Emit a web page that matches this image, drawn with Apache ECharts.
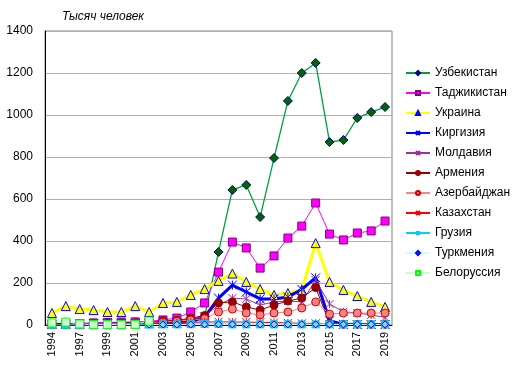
<!DOCTYPE html>
<html><head><meta charset="utf-8">
<script src="https://cdn.jsdelivr.net/npm/echarts@6/dist/echarts.min.js"></script>
<style>html,body{margin:0;padding:0;background:#fff}#c{width:514px;height:374px}</style>
</head><body><div id="c"></div>
<script>
var years = ['1994','1996','1997','1998','1999','2000','2001','2002','2003','2004','2005','2006','2007','2008','2009','2010','2011','2012','2013','2014','2015','2016','2017','2018','2019'];
var yTicks = [0,200,400,600,800,1000,1200,1400];
var uzbekistan = [3,2,3,4,5,6,7,9,12,18,25,40,348,643,667,514,795,1067,1200,1248,871,881,986,1014,1038];
var tajikistan = [5,5,6,10,12,14,15,18,24,33,62,105,252,395,367,271,329,414,471,581,433,405,438,448,495];
var ukraine = [57,90,76,71,62,62,90,62,105,110,143,171,210,245,205,171,143,152,167,390,205,167,138,110,86];
var kyrgyzstan = [3,3,4,4,5,5,6,6,8,10,15,38,128,190,157,124,124,133,170,225,20,3,2,2,2];
var moldova = [2,2,3,5,6,7,9,10,15,20,28,42,95,128,124,95,110,114,110,214,100,63,57,48,36];
var armenia = [3,3,4,6,8,9,10,12,20,22,33,45,105,110,86,71,95,114,128,178,8,3,3,3,3];
var azerbaijan = [2,2,3,4,5,6,7,9,14,18,24,30,62,76,57,48,57,62,81,110,52,57,57,57,57];
var kazakhstan = [1,1,1,2,2,3,3,8,10,10,12,14,15,14,14,12,12,10,8,8,2,1,1,1,1];
var georgia = [1,1,1,1,1,1,2,2,3,3,4,5,5,3,3,3,3,3,3,3,3,3,3,3,3];
var turkmenia = [null,null,null,null,null,null,null,2,2,2,2,3,3,3,3,3,3,3,3,3,3,3,3,3,3];
var belarus = [10,14,5,2,2,2,3,19,null,null,null,null,null,null,null,null,null,null,null,null,null,null,null,null,null];

var AST = 'path://M0,0L10,10M10,0L0,10M5,0L5,10';
var DASH = 'path://M0,4L10,4L10,6L0,6Z';
function s(name, data, lineColor, lw, symbol, size, fill, border, bw) {
  return {
    name: name, type: 'line', data: data, symbol: symbol, symbolSize: size,
    connectNulls: false, animation: false,
    lineStyle: {color: lineColor, width: lw},
    itemStyle: {color: fill, borderColor: border, borderWidth: bw},
    emphasis: {disabled: true}
  };
}
var series = [
  s('Узбекистан', uzbekistan, '#00a040', 1.3, 'diamond', 9, '#006400', '#000080', 1),
  s('Таджикистан', tajikistan, '#ff00ff', 1, 'rect', 8, '#ff00ff', '#800080', 1),
  s('Украина', ukraine, '#ffff00', 3, 'triangle', 9, '#ffff00', '#0000ff', 1),
  s('Киргизия', kyrgyzstan, '#0000ff', 3, AST, 9, '#0000ff', '#0000ff', 1),
  s('Молдавия', moldova, '#993399', 1, AST, 8, '#993399', '#993399', 1),
  s('Армения', armenia, '#990000', 1, 'circle', 8, '#990000', '#990000', 1),
  s('Азербайджан', azerbaijan, '#ff8080', 1, 'circle', 8, '#ff8080', '#cc0000', 1),
  s('Казахстан', kazakhstan, '#ff0000', 1, AST, 8, '#ff0000', '#ff0000', 1),
  s('Грузия', georgia, '#00ccff', 1, DASH, 8, '#00ccff', '#00ccff', 0),
  s('Туркмения', turkmenia, '#ccffff', 1, 'diamond', 7, '#99ccff', '#0000ff', 1),
  s('Белоруссия', belarus, '#ccffcc', 1, 'rect', 8, '#ccffcc', '#00ff00', 1)
];
var chart = echarts.init(document.getElementById('c'), null, {renderer: 'canvas'});
chart.setOption({
  backgroundColor: '#ffffff',
  textStyle: {fontFamily: 'Liberation Sans, Arial, sans-serif'},
  title: {text: 'Тысяч человек', left: 62, top: 11, padding: 0,
    textStyle: {fontSize: 12, fontStyle: 'italic', fontWeight: 'normal', color: '#000', fontFamily: 'Liberation Sans, Arial'}},
  grid: {left: 45, right: 122, top: 31, bottom: 49, show: true, borderColor: '#808080', borderWidth: 1, backgroundColor: 'transparent'},
  legend: {
    orient: 'vertical', left: 405, top: 67, padding: 0, itemWidth: 24, itemHeight: 5, itemGap: 8,
    textStyle: {fontSize: 12, color: '#000', fontFamily: 'Liberation Sans, Arial'},
    data: series.map(function (x) { return x.name; })
  },
  xAxis: {
    type: 'category', data: years, boundaryGap: true,
    axisLine: {lineStyle: {color: '#000', width: 1}},
    axisTick: {show: false},
    axisLabel: {rotate: 90, interval: 1, margin: 7, fontSize: 11, color: '#000'},
    splitLine: {show: false}
  },
  yAxis: {
    type: 'value', min: yTicks[0], max: yTicks[yTicks.length - 1], interval: 200,
    axisLine: {show: true, lineStyle: {color: '#000', width: 1}},
    axisTick: {show: false},
    axisLabel: {fontSize: 12, color: '#000', margin: 12, formatter: function (v) { return String(v); }},
    splitLine: {lineStyle: {color: '#b0b0b0', width: 1}}
  },
  series: series
});
</script></body></html>
